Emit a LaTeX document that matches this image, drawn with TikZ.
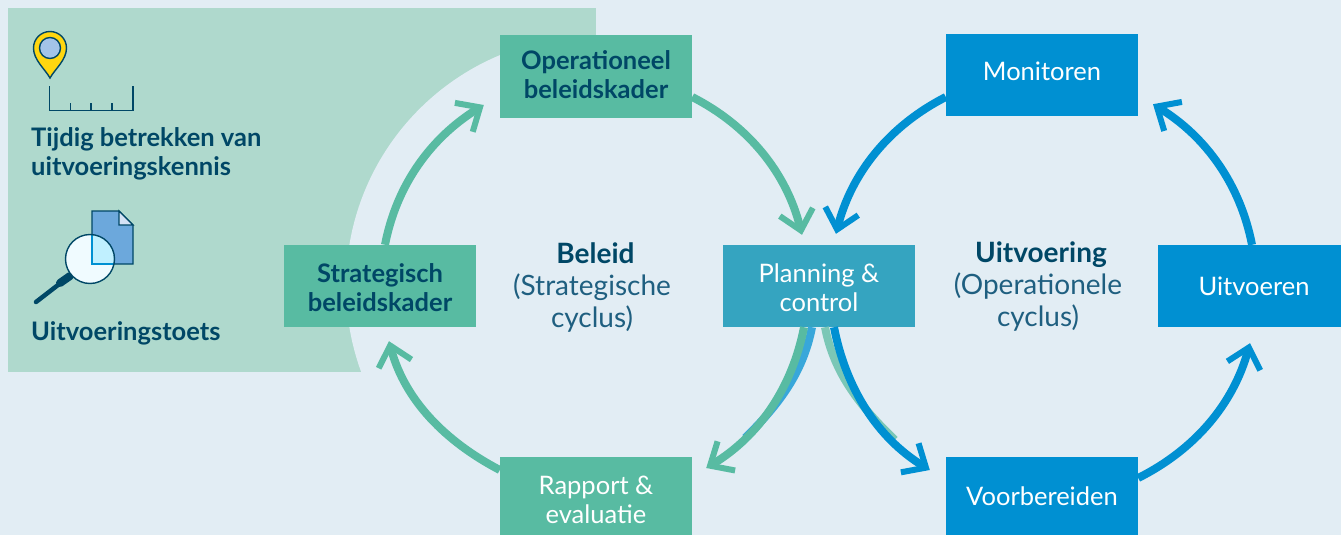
\documentclass[tikz,border=0pt]{standalone}
\usepackage{fontspec}
\setmainfont{Lato}
\usetikzlibrary{arrows.meta,calc}
\definecolor{bgc}{HTML}{E2EDF4}
\definecolor{panelc}{HTML}{AFD9CD}
\definecolor{greenc}{HTML}{58BBA2}
\definecolor{planc}{HTML}{35A4C0}
\definecolor{bluec}{HTML}{0090D2}
\definecolor{darkc}{HTML}{004766}
\definecolor{labelc}{HTML}{1F5F80}
\definecolor{pinc}{HTML}{FFD60F}
\definecolor{pinin}{HTML}{A3C4E8}
\definecolor{docc}{HTML}{6CA8DC}
\definecolor{foldc}{HTML}{D5E2F5}
\definecolor{lensc}{HTML}{F0FBFF}
\definecolor{lensd}{HTML}{C0F0FF}
\tikzset{
  box/.style={minimum width=192pt,minimum height=82pt,inner sep=0pt,align=center,font=\fontsize{25.5}{29}\selectfont,text=white},
  strong/.style={text=darkc,font=\fontsize{25.5}{29}\selectfont\bfseries},
  cyc/.style={inner sep=0pt,align=center,text=labelc,font=\fontsize{28}{32}\selectfont},
  side/.style={inner sep=0pt,align=left,anchor=west,text=darkc,font=\fontsize{25.5}{29}\selectfont\bfseries},
  arr/.style={line width=8pt,-{Straight Barb[length=19pt,width=34pt,line width=6pt]}},
  garr/.style={arr,draw=greenc},
  barr/.style={arr,draw=bluec},
  shadow/.style={line width=8pt},
  icon/.style={draw=darkc,line width=1.4pt,line join=miter}
}
\begin{document}
\begin{tikzpicture}[x=1pt,y=-1pt]
\useasboundingbox (0,0) rectangle (1341,535);
\fill[bgc] (0,0) rectangle (1341,535);
% panel with the circular cut-out
\fill[panelc] (8,8) rectangle (596,372);
\begin{scope}
  \clip (8,8) rectangle (596,372);
  \fill[bgc] (596,286) circle[radius=250];
\end{scope}
% nodes
\node[box,fill=greenc,strong] (oper) at (596,76.5) {Operationeel\\beleidskader\rule[-3pt]{0pt}{3pt}};
\node[box,fill=greenc,strong] (strat) at (380,286) {\rule{0pt}{23pt}Strategisch\\beleidskader};
\node[box,fill=greenc,minimum height=78pt] (rapp) at (596,496) {\rule{0pt}{26pt}Rapport \&\\evaluatie};
\node[box,fill=planc] (plan) at (819,286) {\rule{0pt}{23pt}Planning \&\\control};
\node[box,fill=bluec] (moni) at (1042,75) {Monitoren\rule[-7pt]{0pt}{7pt}};
\node[box,fill=bluec,minimum width=183pt] (uitv) at (1249.5,286) {\hspace*{9pt}Uitvoeren};
\node[box,fill=bluec,minimum height=78pt] (voor) at (1042,496) {Voorbereiden};
% under-layers of the two outgoing arcs
\draw[shadow,draw=bluec!75!bgc] ([shift={(-7,0)}]plan.south) to[out=-101,in=44.4,looseness=.92] ([shift={(53,-19)}]rapp.north east);
\draw[shadow,draw=greenc!75!bgc] ([shift={(6,0)}]plan.south) to[out=-79,in=136,looseness=.92] ([shift={(-51,-17)}]voor.north west);
% connectors
\draw[garr] ([shift={(5,0)}]strat.north) to[out=79,in=211.7,looseness=.92] ([shift={(-16,28.5)}]oper.west);
\draw[garr] ([shift={(0,20.5)}]oper.east) to[out=-27,in=104,looseness=.92] ([shift={(-17,-10)}]plan.north);
\draw[garr] ([shift={(-15,0)}]plan.south) to[out=-101,in=31,looseness=.92] ([shift={(14,-28)}]rapp.east);
\draw[garr] ([shift={(0,-26)}]rapp.west) to[out=152.4,in=284.9,looseness=.92] ([shift={(9,14)}]strat.south);
\draw[barr] ([shift={(0,22)}]moni.west) to[out=207,in=75.8,looseness=.92] ([shift={(17,-11)}]plan.north);
\draw[barr] ([shift={(15,0)}]plan.south) to[out=-79,in=148.7,looseness=.92] ([shift={(-16,-26)}]voor.west);
\draw[barr] ([shift={(0,-18)}]voor.east) to[out=26.6,in=254.7,looseness=.92] ([shift={(0.5,16)}]uitv.south);
\draw[barr] ([shift={(2.5,0)}]uitv.north) to[out=101,in=328.6,looseness=.92] ([shift={(111,-12)}]moni.south);
% cycle labels
\node[cyc] (lbeleid) at (592,287) {\hspace*{7pt}{\bfseries\color{darkc}Beleid}\\(Strategische\\cyclus)};
\node[cyc] (luitv) at (1038,287) {\hspace*{6pt}{\bfseries\color{darkc}Uitvoering}\\(Operationele\\cyclus)};
% side texts
\node[side] (s1) at (31,154) {Tijdig betrekken van\\uitvoeringskennis};
\node[side] (s2) at (31,333) {Uitvoeringstoets};
% pin icon
\draw[icon,fill=pinc] (50,78) .. controls (45,69) and (33.5,60) .. (33.5,48) arc[start angle=180,end angle=360,radius=16.5] .. controls (66.5,60) and (55,69) .. (50,78) -- cycle;
\draw[icon,fill=pinin] (50,48) circle[radius=10.5];
% ruler icon
\draw[darkc,line width=1.4pt] (49.5,86) -- (49.5,110.5) -- (133,110.5) -- (133,86);
\draw[darkc,line width=1.4pt] (70.5,103) -- (70.5,110.5) (91,103) -- (91,110.5) (112,103) -- (112,110.5);
% document and magnifier icon
\draw[icon,fill=docc] (92,211) -- (119,211) -- (133,225) -- (133,264) -- (92,264) -- cycle;
\draw[icon,fill=foldc] (119,211) -- (119,225) -- (133,225) -- cycle;
\draw[darkc,line width=4.5pt,line cap=round] (36,302) -- (58,285);
\draw[darkc,line width=8pt,line cap=round] (60,283) -- (70,276);
\fill[lensc] (90,259) circle[radius=24.5];
\begin{scope}
  \clip (92,211) rectangle (133,264);
  \fill[lensd] (90,259) circle[radius=24.5];
\end{scope}
\draw[bluec,line width=1.4pt] (92,235) -- (92,264) -- (114,264);
\draw[darkc,line width=1.4pt] (90,259) circle[radius=24.5];
\end{tikzpicture}
\end{document}
